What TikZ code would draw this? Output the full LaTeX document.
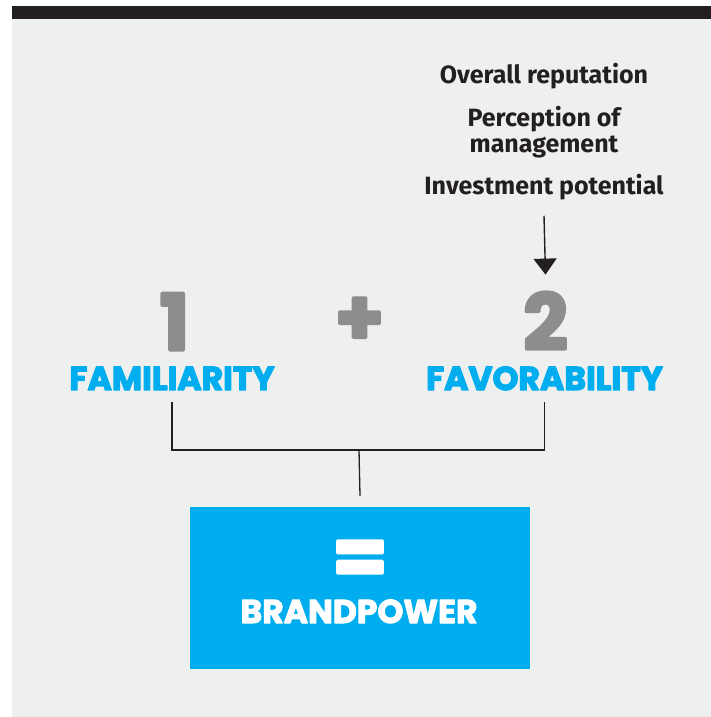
\documentclass[tikz,border=0pt]{standalone}
\usepackage{fontspec}
\setmainfont{Fira Sans}
\newfontfamily\headfont{Poppins}
\usetikzlibrary{positioning, arrows.meta}

\definecolor{bgGray}{HTML}{EEF0EF}
\definecolor{barDark}{HTML}{231F20}
\definecolor{brandBlue}{HTML}{00AEEF}
\definecolor{numGray}{HTML}{8C8D8F}

% heavier glyphs: fill and stroke the letters
\newcommand{\heavy}[2]{\special{pdf:literal direct #1 w 1 j 2 Tr}#2\special{pdf:literal direct 0 Tr}}

\begin{document}
\begin{tikzpicture}[x=1pt, y=-1pt]
        % Define styles for shapes
        \tikzstyle{attribute} = [inner sep=0, anchor=base, text=barDark, font=\fontsize{25}{26}\selectfont\bfseries, align=center]
        \tikzstyle{number} = [inner sep=0, anchor=base, text=numGray, font=\headfont\fontsize{78}{78}\selectfont\bfseries]
        \tikzstyle{factor} = [inner sep=0, anchor=base, text=brandBlue, font=\headfont\fontsize{33}{33}\selectfont\bfseries]
        \tikzstyle{resultbox} = [fill=brandBlue, minimum width=340pt, minimum height=162pt, inner sep=0]
        \tikzstyle{resulttext} = [inner sep=0, anchor=base, text=white, font=\headfont\fontsize{33}{33}\selectfont\bfseries]
        \tikzstyle{bracket} = [draw=barDark, line width=1.3pt]
        \tikzstyle{arrow} = [draw=barDark, line width=1.4pt, -{Triangle[width=23pt, length=16pt]}]

        % Background
        \useasboundingbox (0,0) rectangle (711,717);
        \fill[white] (0,0) rectangle (711,717);
        \fill[bgGray] (12,19) rectangle (711,717);
        \fill[barDark] (12,6) rectangle (711,19);

        % Draw shapes
        \node[attribute] (reputation) at (544,84) {Overall reputation};
        \node[attribute] (perception) at (544,152) {Perception of\\management};
        \node[attribute] (investment) at (544,194) {Investment potential};

        \node[number] (one) at (174.5,350) {\heavy{3}{1}};
        \node[number] (plus) at (359.5,345) {\heavy{3}{+}};
        \node[number] (two) at (545.5,350) {\heavy{3}{2}};

        \node[factor] (familiarity) at (172,390) {\heavy{1.2}{FAMILIARITY}};
        \node[factor] (favorability) at (544.5,390) {\heavy{1.2}{FAVORABILITY}};

        \node[resultbox] (result) at (360,588) {};
        \node[resulttext, font=\headfont\fontsize{80}{80}\selectfont\bfseries] (equals) at (360,585) {\heavy{3}{=}};
        \node[resulttext] (brandpower) at (359,623) {\heavy{1}{BRANDPOWER}};

        \coordinate (join) at (359,450);

        % Draw arrows
        \draw[arrow] (investment.south) ++(0,16) -- ([yshift=17pt]two.north);
        \draw[bracket] ([yshift=-12pt]familiarity.south) |- (join) -| ([yshift=-12pt]favorability.south);
        \draw[bracket] (join) -- ([yshift=11pt]result.north);
    \end{tikzpicture}
\end{document}
